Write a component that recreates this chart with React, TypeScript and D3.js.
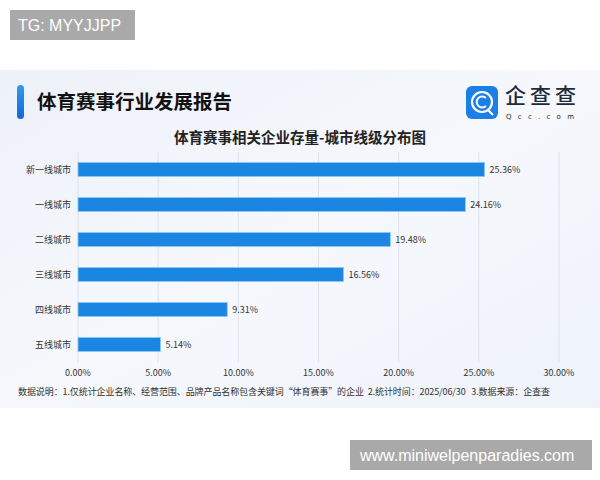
import React from 'react'
import * as d3 from 'd3'

const categories = ['新一线城市', '一线城市', '二线城市', '三线城市', '四线城市', '五线城市']
const shares = [25.36, 24.16, 19.48, 16.56, 9.31, 5.14]
const xTicks = [0, 5, 10, 15, 20, 25, 30]

const reportTitle = '体育赛事行业发展报告'
const chartTitle = '体育赛事相关企业存量-城市线级分布图'
const footnote =
  '数据说明：1.仅统计企业名称、经营范围、品牌产品名称包含关键词“体育赛事”的企业  2.统计时间：2025/06/30   3.数据来源：企查查'

const width = 600
const height = 480
const plot = { left: 78, right: 559, top: 152, bottom: 362 }
const font = '"Noto Sans CJK SC", "Noto Sans", sans-serif'

const xScale = d3.scaleLinear().domain([0, 30]).range([plot.left, plot.right])
const yScale = d3
  .scaleBand<string>()
  .domain(categories)
  .range([plot.top, plot.bottom])
  .paddingInner(0.6)
  .paddingOuter(0.3)

function Bars() {
  return (
    <g>
      {categories.map((c, i) => {
        const y = yScale(c) as number
        const bw = yScale.bandwidth()
        return (
          <g key={c}>
            <rect
              x={xScale(0)}
              y={y}
              width={xScale(shares[i]) - xScale(0)}
              height={bw}
              fill="#1a86e2"
              stroke="#8ccaf5"
              strokeWidth={0.8}
            />
            <text
              x={xScale(shares[i]) + 5}
              y={y + bw / 2}
              dy="0.35em"
              fontSize={9}
              fill="#333"
            >
              {shares[i].toFixed(2)}%
            </text>
            <text x={71} y={y + bw / 2} dy="0.35em" fontSize={9} fill="#333" textAnchor="end">
              {c}
            </text>
          </g>
        )
      })}
    </g>
  )
}

function Grid() {
  return (
    <g>
      {xTicks.map(t => (
        <g key={t}>
          <line
            x1={xScale(t)}
            x2={xScale(t)}
            y1={plot.top}
            y2={plot.bottom}
            stroke="#dde2ea"
            strokeWidth={1}
          />
          <text x={xScale(t)} y={376} fontSize={9} fill="#333" textAnchor="middle">
            {t.toFixed(2)}%
          </text>
        </g>
      ))}
    </g>
  )
}

function Logo() {
  return (
    <g>
      <rect x={466} y={86} width={32} height={33} rx={6} fill="#1b7fe6" />
      <circle cx={482} cy={102} r={10} fill="none" stroke="#fff" strokeWidth={2.2} />
      <path d="M486 98 A5.5 5.5 0 1 0 486 106" fill="none" stroke="#fff" strokeWidth={2} />
      <line x1={488} y1={110} x2={493} y2={115} stroke="#fff" strokeWidth={2.2} />
      <text x={505} y={103} fontSize={21} fill="#1f2a3a" fontWeight={500} textLength={71}>
        企查查
      </text>
      <text x={506} y={118.5} fontSize={7} fill="#1f2a3a" textLength={68} fontFamily="DejaVu Sans">
        Qcc.com
      </text>
    </g>
  )
}

export default function App() {
  return (
    <svg
      width={width}
      height={height}
      style={{ display: 'block', position: 'absolute', left: 0, top: 0 }}
      fontFamily={font}
    >
      <defs>
        <linearGradient id="panelBg" x1="0" y1="0" x2="1" y2="1">
          <stop offset="0%" stopColor="#edf1f8" />
          <stop offset="50%" stopColor="#f6f8fc" />
          <stop offset="100%" stopColor="#eef3fa" />
        </linearGradient>
        <linearGradient id="accent" x1="0" y1="0" x2="0" y2="1">
          <stop offset="0%" stopColor="#2d9bf0" />
          <stop offset="100%" stopColor="#1466d6" />
        </linearGradient>
      </defs>
      <rect width={width} height={height} fill="#fff" />
      <rect x={0} y={70} width={width} height={338} fill="url(#panelBg)" />

      <rect x={10} y={10} width={125} height={30} fill="#a9a9a9" />
      <text x={18} y={31} fontSize={16} fill="#fff" fontFamily="Liberation Sans, Arial">
        TG: MYYJJPP
      </text>

      <rect x={17} y={85} width={7} height={34} rx={3.5} fill="url(#accent)" />
      <text x={37} y={109} fontSize={19.5} fontWeight="bold" fill="#111">
        {reportTitle}
      </text>
      <Logo />

      <text x={300} y={143} fontSize={14.5} fontWeight="bold" fill="#222" textAnchor="middle">
        {chartTitle}
      </text>

      <Grid />
      <Bars />

      <text x={18} y={395} fontSize={9} fill="#333" textLength={532} xmlSpace="preserve">
        {footnote}
      </text>

      <rect x={350} y={440} width={242} height={30} fill="#a9a9a9" />
      <text x={360} y={461} fontSize={16} fill="#fff" fontFamily="Liberation Sans, Arial">
        www.miniwelpenparadies.com
      </text>
    </svg>
  )
}
